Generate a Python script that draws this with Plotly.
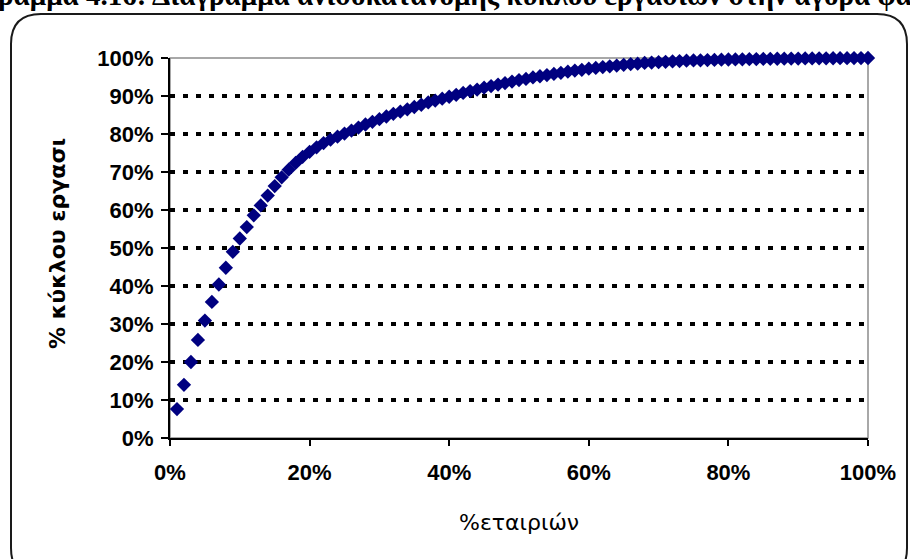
import plotly.graph_objects as go

# ---- data ----
pct_firms = list(range(1, 101))
pct_turnover = [
    7.6, 14.0, 20.0, 25.8, 30.9, 35.8, 40.4, 44.8, 49.0, 52.5,
    55.5, 58.6, 61.2, 63.8, 66.3, 68.6, 70.6, 72.4, 74.0, 75.3,
    76.5, 77.6, 78.5, 79.3, 80.1, 80.9, 81.7, 82.5, 83.2, 83.9,
    84.6, 85.3, 85.9, 86.5, 87.1, 87.7, 88.3, 88.8, 89.3, 89.8,
    90.3, 90.8, 91.3, 91.7, 92.2, 92.6, 93.0, 93.4, 93.8, 94.2,
    94.5, 94.9, 95.2, 95.5, 95.8, 96.1, 96.4, 96.7, 96.9, 97.2,
    97.4, 97.6, 97.8, 98.0, 98.2, 98.4, 98.5, 98.7, 98.8, 98.9,
    99.0, 99.1, 99.2, 99.3, 99.35, 99.4, 99.45, 99.5, 99.55, 99.6,
    99.62, 99.65, 99.7, 99.72, 99.75, 99.78, 99.8, 99.82, 99.84, 99.86,
    99.88, 99.9, 99.91, 99.92, 99.94, 99.95, 99.96, 99.98, 99.99, 100.0,
]
x_ticks = [0, 20, 40, 60, 80, 100]
x_tick_labels = ["0%", "20%", "40%", "60%", "80%", "100%"]
y_ticks = [0, 10, 20, 30, 40, 50, 60, 70, 80, 90, 100]
y_tick_labels = ["0%", "10%", "20%", "30%", "40%", "50%", "60%", "70%", "80%", "90%", "100%"]
x_title = "%εταιριών"
y_title = "% κύκλου εργασι"
top_text = "ραμμα 4.16: Διάγραμμα ανισοκατανομής κύκλου εργασιών στην αγορά φα"

W, H = 910, 559
L, R, T, B = 170, 42, 58, 121
PW, PH = W - L - R, H - T - B


def px(xp):
    return (xp - L) / PW


def py(yp):
    return (H - B - yp) / PH


fig = go.Figure()
fig.add_trace(go.Scatter(
    x=pct_firms, y=pct_turnover, mode="markers",
    marker=dict(symbol="diamond", size=11, color="#000080",
                line=dict(width=0)),
    cliponaxis=False, showlegend=False,
))

# outer rounded frame (pixel coords -> paper)
x0, x1, y0, y1, r = 11, 907, 14, 578, 30
path = (
    f"M {px(x0 + r)} {py(y0)} L {px(x1 - r)} {py(y0)} "
    f"Q {px(x1)} {py(y0)} {px(x1)} {py(y0 + r)} "
    f"L {px(x1)} {py(y1 - r)} Q {px(x1)} {py(y1)} {px(x1 - r)} {py(y1)} "
    f"L {px(x0 + r)} {py(y1)} Q {px(x0)} {py(y1)} {px(x0)} {py(y1 - r)} "
    f"L {px(x0)} {py(y0 + r)} Q {px(x0)} {py(y0)} {px(x0 + r)} {py(y0)} Z"
)
fig.add_shape(type="path", path=path, xref="paper", yref="paper",
              line=dict(color="#1a1a1a", width=2), layer="below")
# plot-area frame (grey)
fig.add_shape(type="rect", xref="paper", yref="paper", x0=0, x1=1, y0=0, y1=1,
              line=dict(color="#8c8c8c", width=1.5), layer="below")

tick_font = dict(family="Liberation Sans, Arial, sans-serif", size=22, color="#000",
                 weight="bold")

fig.update_layout(
    width=W, height=H,
    margin=dict(l=L, r=R, t=T, b=B, pad=0),
    paper_bgcolor="white", plot_bgcolor="white",
    xaxis=dict(range=[0, 100], tickmode="array", tickvals=x_ticks, ticktext=x_tick_labels,
               showgrid=False, zeroline=False,
               showline=True, linecolor="#000", linewidth=2,
               ticks="outside", ticklen=6, tickwidth=1.5, tickcolor="#000",
               tickfont=tick_font, ticklabelstandoff=8),
    yaxis=dict(range=[0, 100], tickmode="array", tickvals=y_ticks, ticktext=y_tick_labels,
               showgrid=True, gridcolor="#000", gridwidth=3.5, griddash="5px,8px",
               zeroline=False,
               showline=True, linecolor="#000", linewidth=2,
               ticks="outside", ticklen=7, tickwidth=1.5, tickcolor="#000",
               tickfont=tick_font, ticklabelstandoff=3),
    annotations=[
        dict(text=x_title, xref="paper", yref="paper", x=px(519), y=py(522),
             showarrow=False, xanchor="center", yanchor="middle",
             font=dict(family="DejaVu Sans, Arial, sans-serif", size=22, color="#000")),
        dict(text="<b>" + y_title + "</b>", xref="paper", yref="paper", x=px(58), y=py(243),
             showarrow=False, xanchor="center", yanchor="middle", textangle=-90,
             font=dict(family="DejaVu Sans, Arial, sans-serif", size=22, color="#000")),
        dict(text="<b>" + top_text + "</b>", xref="paper", yref="paper",
             x=px(455), y=py(13), showarrow=False, xanchor="center", yanchor="bottom",
             font=dict(family="Liberation Serif, Times New Roman, serif", size=29, color="#000")),
    ],
)

fig.write_html("out.html")
